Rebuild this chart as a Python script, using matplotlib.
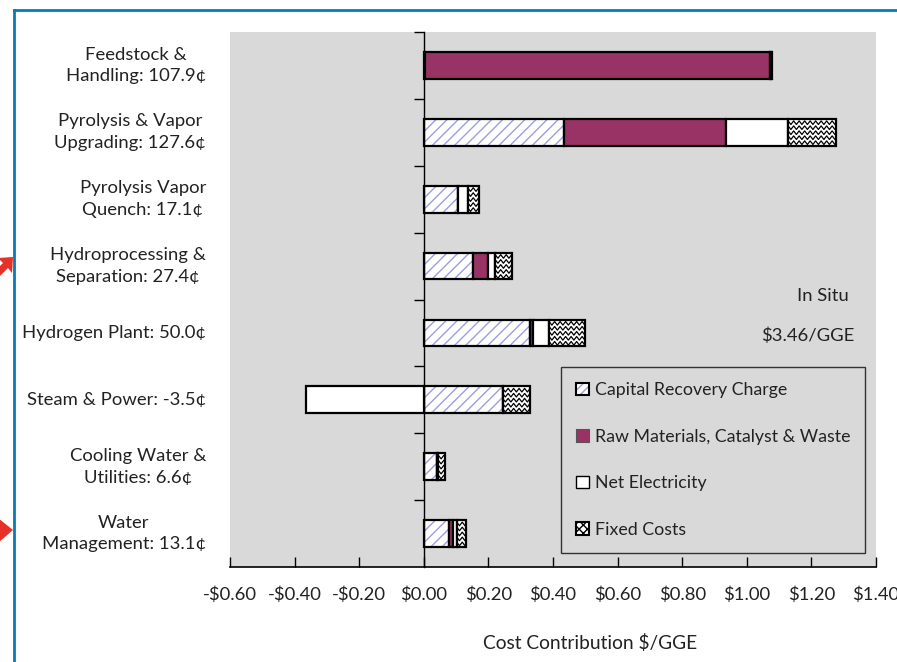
import numpy as np
import matplotlib
matplotlib.use("Agg")
import matplotlib.pyplot as plt
from matplotlib.patches import Patch, Polygon
from matplotlib.lines import Line2D
from matplotlib.legend_handler import HandlerTuple
from matplotlib.transforms import blended_transform_factory, IdentityTransform

plt.rcParams['font.family'] = ['Lato', 'DejaVu Sans']

# ---- data ($/GGE) ----
categories = [
    "Feedstock &\nHandling: 107.9\u00a2",
    "Pyrolysis & Vapor\nUpgrading: 127.6\u00a2",
    "Pyrolysis Vapor\nQuench: 17.1\u00a2",
    "Hydroprocessing &\nSeparation: 27.4\u00a2",
    "Hydrogen Plant: 50.0\u00a2",
    "Steam & Power: -3.5\u00a2",
    "Cooling Water &\nUtilities: 6.6\u00a2",
    "Water\nManagement: 13.1\u00a2",
]
capital = [0.004, 0.433, 0.105, 0.151, 0.330, 0.244, 0.040, 0.079]
raw_materials = [1.069, 0.503, 0.000, 0.047, 0.008, 0.000, 0.000, 0.011]
net_electricity = [0.002, 0.192, 0.031, 0.023, 0.050, -0.365, 0.005, 0.012]
fixed_costs = [0.004, 0.148, 0.035, 0.053, 0.112, 0.086, 0.021, 0.029]
series_names = ["Capital Recovery Charge", "Raw Materials, Catalyst & Waste",
                "Net Electricity", "Fixed Costs"]
xticks = [-0.6, -0.4, -0.2, 0.0, 0.2, 0.4, 0.6, 0.8, 1.0, 1.2, 1.4]
total_label = ["In Situ", "$3.46/GGE"]
xlabel = "Cost Contribution $/GGE"

W, H = 897, 662
FS = 13.3
TXT = "#222222"
fig = plt.figure(figsize=(W / 100, H / 100), dpi=100)
ax = fig.add_axes([230 / W, 1 - 567 / H, 646 / W, 535 / H])
gray = "#d9d9d9"
ax.set_facecolor(gray)

n = len(categories)
y = np.arange(n)[::-1].astype(float)
bh = 0.4
lavender = "#9d9de0"
magenta = "#993366"

cap = np.array(capital)
raw = np.array(raw_materials)
ele = np.array(net_electricity)
fix = np.array(fixed_costs)

# positive parts stack to the right, negative parts to the left
pos_left = np.zeros(n)
neg_left = np.zeros(n)


def lefts(vals):
    global pos_left, neg_left
    out = np.where(vals >= 0, pos_left, neg_left)
    pos_left = pos_left + np.where(vals >= 0, vals, 0)
    neg_left = neg_left + np.where(vals < 0, vals, 0)
    return out


cap_left = lefts(cap)
raw_left = lefts(raw)
ele_left = lefts(ele)
fix_left = lefts(fix)

# capital recovery: lavender hatch on white, black outline on top
ax.barh(y, cap, left=cap_left, height=bh, color="white", edgecolor=lavender,
        hatch="///", linewidth=0, zorder=2)
ax.barh(y, cap, left=cap_left, height=bh, fill=False, edgecolor="black",
        linewidth=1.6, zorder=3)
ax.barh(y, raw, left=raw_left, height=bh, color=magenta, edgecolor="black",
        linewidth=1.6, zorder=3)
ax.barh(y, ele, left=ele_left, height=bh, color="white", edgecolor="black",
        linewidth=1.6, zorder=3)
fix_bars = ax.barh(y, fix, left=fix_left, height=bh, color="white",
                   edgecolor="black", linewidth=1.6, zorder=3)

ax.set_xlim(-0.6, 1.4)
ax.set_ylim(-0.5, n - 0.5)

# axes styling
for s in ("top", "right"):
    ax.spines[s].set_visible(False)
ax.spines["left"].set_position(("data", 0))
ax.spines["left"].set_linewidth(1.0)
ax.spines["bottom"].set_linewidth(1.2)
ax.set_yticks(np.arange(n) + 0.5)
ax.set_yticklabels([])
ax.tick_params(axis="y", direction="out", length=7, width=1.0)
ax.set_xticks(xticks)
ax.set_xticklabels([("-$%.2f" % abs(v)) if v < 0 else ("$%.2f" % v) for v in xticks],
                   fontsize=FS, color=TXT)
ax.tick_params(axis="x", direction="in", length=7, width=1.0, pad=14)
ax.set_xlabel(xlabel, fontsize=FS + 0.5, color=TXT)
ax.xaxis.set_label_coords((590 - 230) / 646, -0.125)

# category labels on the far left
tr = blended_transform_factory(fig.transFigure, ax.transData)
for yi, lab in zip(y, categories):
    ax.text(206 / W, yi, lab, transform=tr, ha="right", va="center",
            multialignment="center", fontsize=FS, color=TXT,
            linespacing=1.45, clip_on=False)

# annotations on the right
fig.text(849 / W, 1 - 296 / H, total_label[0], ha="right", va="center",
         fontsize=FS, color=TXT)
fig.text(854 / W, 1 - 336 / H, total_label[1], ha="right", va="center",
         fontsize=FS, color=TXT)

# zigzag texture for the fixed cost segments
fig.canvas.draw()
for p in fix_bars.patches:
    bb = p.get_window_extent()
    if bb.width < 0.5:
        continue
    period, amp, gap = 5.5, 1.8, 5.0
    xs = np.arange(bb.x0 - period, bb.x1 + period, period / 2)
    yy = bb.y0 + 3.0
    while yy < bb.y1 - 1:
        ys = yy + amp * np.where(np.arange(len(xs)) % 2 == 0, 1, -1)
        ln = Line2D(xs, ys, transform=IdentityTransform(), color="black",
                    linewidth=0.9, zorder=3.5)
        ax.add_artist(ln)
        ln.set_clip_box(None)
        ln.set_clip_path(p.get_path(), p.get_transform())
        yy += gap

# legend
cap_handle = (Patch(facecolor="white", edgecolor=lavender, hatch="////", linewidth=0),
              Patch(fill=False, edgecolor="black", linewidth=1.5))
handles = [
    cap_handle,
    Patch(facecolor=magenta, edgecolor="#555555", linewidth=0.8),
    Patch(facecolor="white", edgecolor="black", linewidth=1.0),
    Patch(facecolor="white", edgecolor="black", hatch="xxxx", linewidth=1.5),
]
leg = fig.legend(handles, series_names, loc="upper left",
                 bbox_to_anchor=(561 / W, 1 - 367 / H), bbox_transform=fig.transFigure,
                 fontsize=FS - 0.5, frameon=True, fancybox=False, facecolor=gray,
                 edgecolor="#333333", framealpha=1, handlelength=0.7,
                 handleheight=0.7, handletextpad=0.35, labelspacing=1.72,
                 borderpad=0.85, borderaxespad=0,
                 handler_map={tuple: HandlerTuple(ndivide=1, pad=0)})
leg.get_frame().set_linewidth(1.0)
for t in leg.get_texts():
    t.set_color(TXT)

# outer frame lines and pointer arrows
blue = "#0a7ab5"
fig.add_artist(Line2D([14 / W, 14 / W], [0, 1 - 10 / H], color=blue, linewidth=2.0,
                      transform=fig.transFigure))
fig.add_artist(Line2D([14 / W, 1], [1 - 10 / H, 1 - 10 / H], color=blue, linewidth=2.0,
                      transform=fig.transFigure))
red = "#e8302a"


def px(pts):
    return [(x / W, 1 - yv / H) for x, yv in pts]


fig.add_artist(Polygon(px([(13, 257), (-2, 258), (3, 263), (-8, 274), (-3, 279),
                           (8, 268), (12, 273)]),
                       closed=True, transform=fig.transFigure, color=red, lw=0))
fig.add_artist(Polygon(px([(13, 530), (-2, 518), (-2, 525), (-10, 525), (-10, 535),
                           (-2, 535), (-2, 543)]),
                       closed=True, transform=fig.transFigure, color=red, lw=0))

fig.savefig("out.png", dpi=100)
